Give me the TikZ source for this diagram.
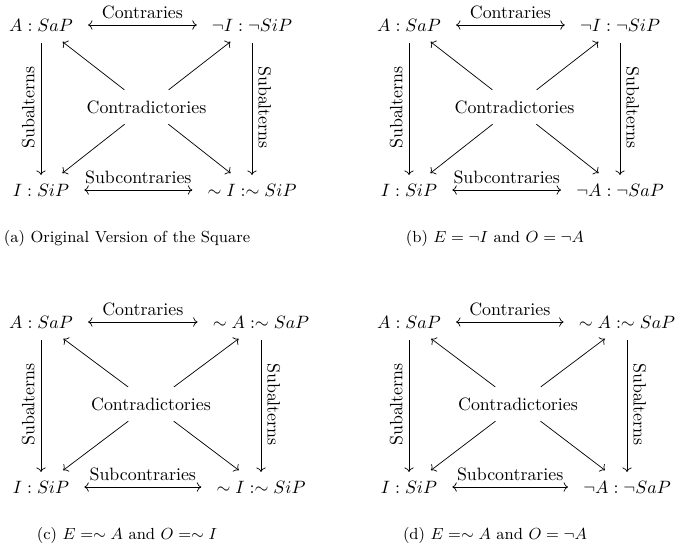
\documentclass[tikz,border=0pt]{standalone}
\usetikzlibrary{arrows.meta, positioning}

\begin{document}
\begin{tikzpicture}[
    x=0.56pt, y=-0.56pt, % one unit is one pixel of the page
    >=To, % Set default arrow tip style
    prop/.style={inner sep=3.33pt}, % Style for the four propositions
    opparrow/.style={<->, shorten <=5pt, shorten >=5pt}, % Style for contraries and subcontraries
    subarrow/.style={->, shorten <=3pt, shorten >=1.5pt}, % Style for subalterns
    contraarrow/.style={->, shorten <=4pt, shorten >=4pt}, % Style for contradictories
    rellabel/.style={midway, above}, % Style for labels on horizontal arrows
    sidelabel/.style={midway, anchor=south}, % Style for labels on vertical arrows
    capstyle/.style={font=\small} % Style for the captions
]
    \useasboundingbox (0,0) rectangle (677,546);

    % (a) Original version
    \begin{scope}
        \node[prop] (A1) at (41,25) {$A : SaP$};
        \node[prop] (E1) at (252,25) {$\neg I : \neg SiP$};
        \node[prop] (I1) at (41,190) {$I : SiP$};
        \node[prop] (O1) at (252,190) {$\sim I : \sim SiP$};
        \node (C1) at (146.5,107) {Contradictories};
        \draw[opparrow] (A1) -- (E1) node[rellabel] {Contraries};
        \draw[opparrow] (I1) -- (O1) node[rellabel] {Subcontraries};
        \draw[subarrow] (A1) -- (I1) node[sidelabel, rotate=90] {Subalterns};
        \draw[subarrow] (E1) -- (O1) node[sidelabel, rotate=-90] {Subalterns};
        \draw[contraarrow] (C1) -- (A1);
        \draw[contraarrow] (C1) -- (E1);
        \draw[contraarrow] (C1) -- (I1);
        \draw[contraarrow] (C1) -- (O1);
        \node[capstyle] (cap1) at (127,238) {(a) Original Version of the Square};
    \end{scope}

    % (b) E = not I, O = not A
    \begin{scope}[shift={(368,0)}]
        \node[prop] (A2) at (41,25) {$A : SaP$};
        \node[prop] (E2) at (252,25) {$\neg I : \neg SiP$};
        \node[prop] (I2) at (41,190) {$I : SiP$};
        \node[prop] (O2) at (252,190) {$\neg A : \neg SaP$};
        \node (C2) at (146.5,107) {Contradictories};
        \draw[opparrow] (A2) -- (E2) node[rellabel] {Contraries};
        \draw[opparrow] (I2) -- (O2) node[rellabel] {Subcontraries};
        \draw[subarrow] (A2) -- (I2) node[sidelabel, rotate=90] {Subalterns};
        \draw[subarrow] (E2) -- (O2) node[sidelabel, rotate=-90] {Subalterns};
        \draw[contraarrow] (C2) -- (A2);
        \draw[contraarrow] (C2) -- (E2);
        \draw[contraarrow] (C2) -- (I2);
        \draw[contraarrow] (C2) -- (O2);
        \node[capstyle] (cap2) at (127,238) {(b) $E = \neg I$ and $O = \neg A$};
    \end{scope}

    % (c) E = ~A, O = ~I
    \begin{scope}[shift={(0,297)}]
        \node[prop] (A3) at (41,25) {$A : SaP$};
        \node[prop] (E3) at (261,25) {$\sim A : \sim SaP$};
        \node[prop] (I3) at (41,190) {$I : SiP$};
        \node[prop] (O3) at (261,190) {$\sim I : \sim SiP$};
        \node (C3) at (151,107) {Contradictories};
        \draw[opparrow] (A3) -- (E3) node[rellabel] {Contraries};
        \draw[opparrow] (I3) -- (O3) node[rellabel] {Subcontraries};
        \draw[subarrow] (A3) -- (I3) node[sidelabel, rotate=90] {Subalterns};
        \draw[subarrow] (E3) -- (O3) node[sidelabel, rotate=-90] {Subalterns};
        \draw[contraarrow] (C3) -- (A3);
        \draw[contraarrow] (C3) -- (E3);
        \draw[contraarrow] (C3) -- (I3);
        \draw[contraarrow] (C3) -- (O3);
        \node[capstyle] (cap3) at (127,238) {(c) $E = \sim A$ and $O = \sim I$};
    \end{scope}

    % (d) E = ~A, O = not A
    \begin{scope}[shift={(368,297)}]
        \node[prop] (A4) at (41,25) {$A : SaP$};
        \node[prop] (E4) at (259,25) {$\sim A : \sim SaP$};
        \node[prop] (I4) at (41,190) {$I : SiP$};
        \node[prop] (O4) at (259,190) {$\neg A : \neg SaP$};
        \node (C4) at (150,107) {Contradictories};
        \draw[opparrow] (A4) -- (E4) node[rellabel] {Contraries};
        \draw[opparrow] (I4) -- (O4) node[rellabel] {Subcontraries};
        \draw[subarrow] (A4) -- (I4) node[sidelabel, rotate=90] {Subalterns};
        \draw[subarrow] (E4) -- (O4) node[sidelabel, rotate=-90] {Subalterns};
        \draw[contraarrow] (C4) -- (A4);
        \draw[contraarrow] (C4) -- (E4);
        \draw[contraarrow] (C4) -- (I4);
        \draw[contraarrow] (C4) -- (O4);
        \node[capstyle] (cap4) at (127,238) {(d) $E = \sim A$ and $O = \neg A$};
    \end{scope}

\end{tikzpicture}
\end{document}
